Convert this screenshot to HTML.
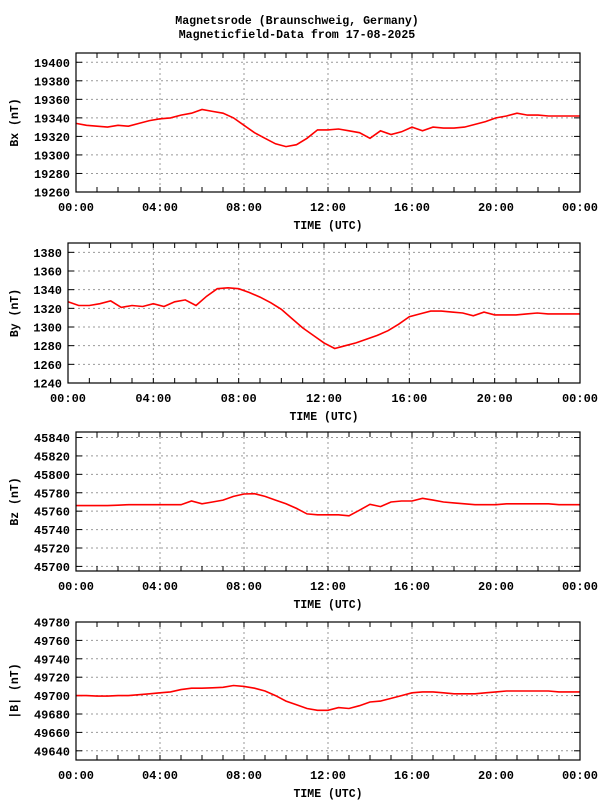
<!DOCTYPE html>
<html><head><meta charset="utf-8"><style>
body{margin:0;background:#fff;}
svg{display:block;font-family:"Liberation Mono",monospace;font-weight:bold;}
</style></head><body>
<svg id="c" width="600" height="800" viewBox="0 0 600 800">
<text x="297" y="24" text-anchor="middle" font-size="11.6">Magnetsrode (Braunschweig, Germany)</text>
<text x="297" y="38" text-anchor="middle" font-size="11.6">Magneticfield-Data from 17-08-2025</text>
</svg>
<script>
const hours = [0,0.5,1,1.5,2,2.5,3,3.5,4,4.5,5,5.5,6,6.5,7,7.5,8,8.5,9,9.5,10,10.5,11,11.5,12,12.5,13,13.5,14,14.5,15,15.5,16,16.5,17,17.5,18,18.5,19,19.5,20,20.5,21,21.5,22,22.5,23,23.5,24];
const bxValues = [19334,19332,19331,19330,19332,19331,19334,19337,19339,19340,19343,19345,19349,19347,19345,19340,19332,19324,19318,19312,19309,19311,19318,19327,19327,19328,19326,19324,19318,19326,19322,19325,19330,19326,19330,19329,19329,19330,19333,19336,19340,19342,19345,19343,19343,19342,19342,19342,19342];
const byValues = [1327,1323,1323,1325,1328,1321,1323,1322,1325,1322,1327,1329,1323,1333,1341,1342,1341,1337,1332,1326,1319,1309,1299,1291,1283,1277,1280,1283,1287,1291,1296,1303,1311,1314,1317,1317,1316,1315,1312,1316,1313,1313,1313,1314,1315,1314,1314,1314,1314];
const bzValues = [45766,45766,45766,45766,45766.5,45767,45767,45767,45767,45767,45767,45771,45768,45770,45772,45776,45778.6,45779,45776,45772,45768,45763,45757,45756,45756,45756,45755,45761,45767.5,45765,45770,45771,45771,45774,45772,45770,45769,45768,45767,45767,45767,45768,45768,45768,45768,45768,45767,45767,45767];
const btValues = [49700,49700,49699.5,49699.5,49700,49700,49701,49702,49703,49704,49706.5,49708,49708,49708.5,49709,49711,49710,49708,49705,49700,49694,49690,49686,49684,49684,49687,49686,49689,49693,49694,49697,49700,49703,49704,49704,49703,49702,49702,49702,49703,49704,49705,49705,49705,49705,49705,49704,49704,49704];
const xTickLabels = ["00:00","04:00","08:00","12:00","16:00","20:00","00:00"];
const bxTicks = [19260,19280,19300,19320,19340,19360,19380,19400];
const byTicks = [1240,1260,1280,1300,1320,1340,1360,1380];
const bzTicks = [45700,45720,45740,45760,45780,45800,45820,45840];
const btTicks = [49640,49660,49680,49700,49720,49740,49760,49780];

const NS="http://www.w3.org/2000/svg";
const svg=document.getElementById('c');
function mk(tag,attrs,parent){const e=document.createElementNS(NS,tag);for(const k in attrs)e.setAttribute(k,attrs[k]);(parent||svg).appendChild(e);return e;}

const panels=[
 {key:'bx',title:'Bx (nT)',vals:bxValues,ticks:bxTicks,left:76,top:53,bottom:192,ymin:19260,ymax:19410},
 {key:'by',title:'By (nT)',vals:byValues,ticks:byTicks,left:68,top:243,bottom:383,ymin:1240,ymax:1390},
 {key:'bz',title:'Bz (nT)',vals:bzValues,ticks:bzTicks,left:76,top:432,bottom:571,ymin:45695,ymax:45846},
 {key:'bt',title:'|B| (nT)',vals:btValues,ticks:btTicks,left:76,top:622,bottom:760,ymin:49630,ymax:49780}
];
const right=580;
panels.forEach(p=>{
  const g=mk('g',{});
  
  
  const xs=h=>p.left+(right-p.left)*h/24;
  const ys=v=>p.bottom-(p.bottom-p.top)*(v-p.ymin)/(p.ymax-p.ymin);
  // grid
  for(let h=4;h<24;h+=4){
    const l=mk('line',{x1:xs(h),x2:xs(h),y1:p.top,y2:p.bottom,stroke:'#999','stroke-dasharray':'2,3','stroke-width':1},g);
    
    
  }
  p.ticks.forEach(v=>{
    const y=ys(v);
    if(v>p.ymin+1){
      const l=mk('line',{x1:p.left,x2:right,y1:y,y2:y,stroke:'#999','stroke-dasharray':'2,3','stroke-width':1},g);
      
      
    }
    mk('line',{x1:p.left,x2:p.left+6,y1:y,y2:y,stroke:'#000'},g);
    mk('line',{x1:right-6,x2:right,y1:y,y2:y,stroke:'#000'},g);
    const t=mk('text',{x:p.left-6,y:y+4.5,'text-anchor':'end','font-size':'12'},g);
    t.textContent=v;
    
    
  });
  for(let h=1;h<24;h++){
    mk('line',{x1:xs(h),x2:xs(h),y1:p.bottom,y2:p.bottom-5,stroke:'#000'},g);
    mk('line',{x1:xs(h),x2:xs(h),y1:p.top,y2:p.top+5,stroke:'#000'},g);
  }
  xTickLabels.forEach((lab,i)=>{
    const t=mk('text',{x:xs(i*4),y:p.bottom+19,'text-anchor':'middle','font-size':'12'},g);
    t.textContent=lab;
    
    
  });
  const xt=mk('text',{x:(p.left+right)/2,y:p.bottom+37,'text-anchor':'middle','font-size':'11.5'},g);
  xt.textContent='TIME (UTC)';
  
  
  const cy=(p.top+p.bottom)/2;
  const yt=mk('text',{x:18,y:cy,'text-anchor':'middle','font-size':'11.5',transform:'rotate(-90 18 '+cy+')'},g);
  yt.textContent=p.title;
  
  
  const pts=hours.map((h,i)=>xs(h).toFixed(1)+','+ys(p.vals[i]).toFixed(1)).join(' ');
  const line=mk('polyline',{points:pts,fill:'none',stroke:'#f00','stroke-width':1.6},g);
  
  
  const fr=mk('rect',{x:p.left,y:p.top,width:right-p.left,height:p.bottom-p.top,fill:'none',stroke:'#000','stroke-width':1.2},g);
  
  
});
</script>
</body></html>
